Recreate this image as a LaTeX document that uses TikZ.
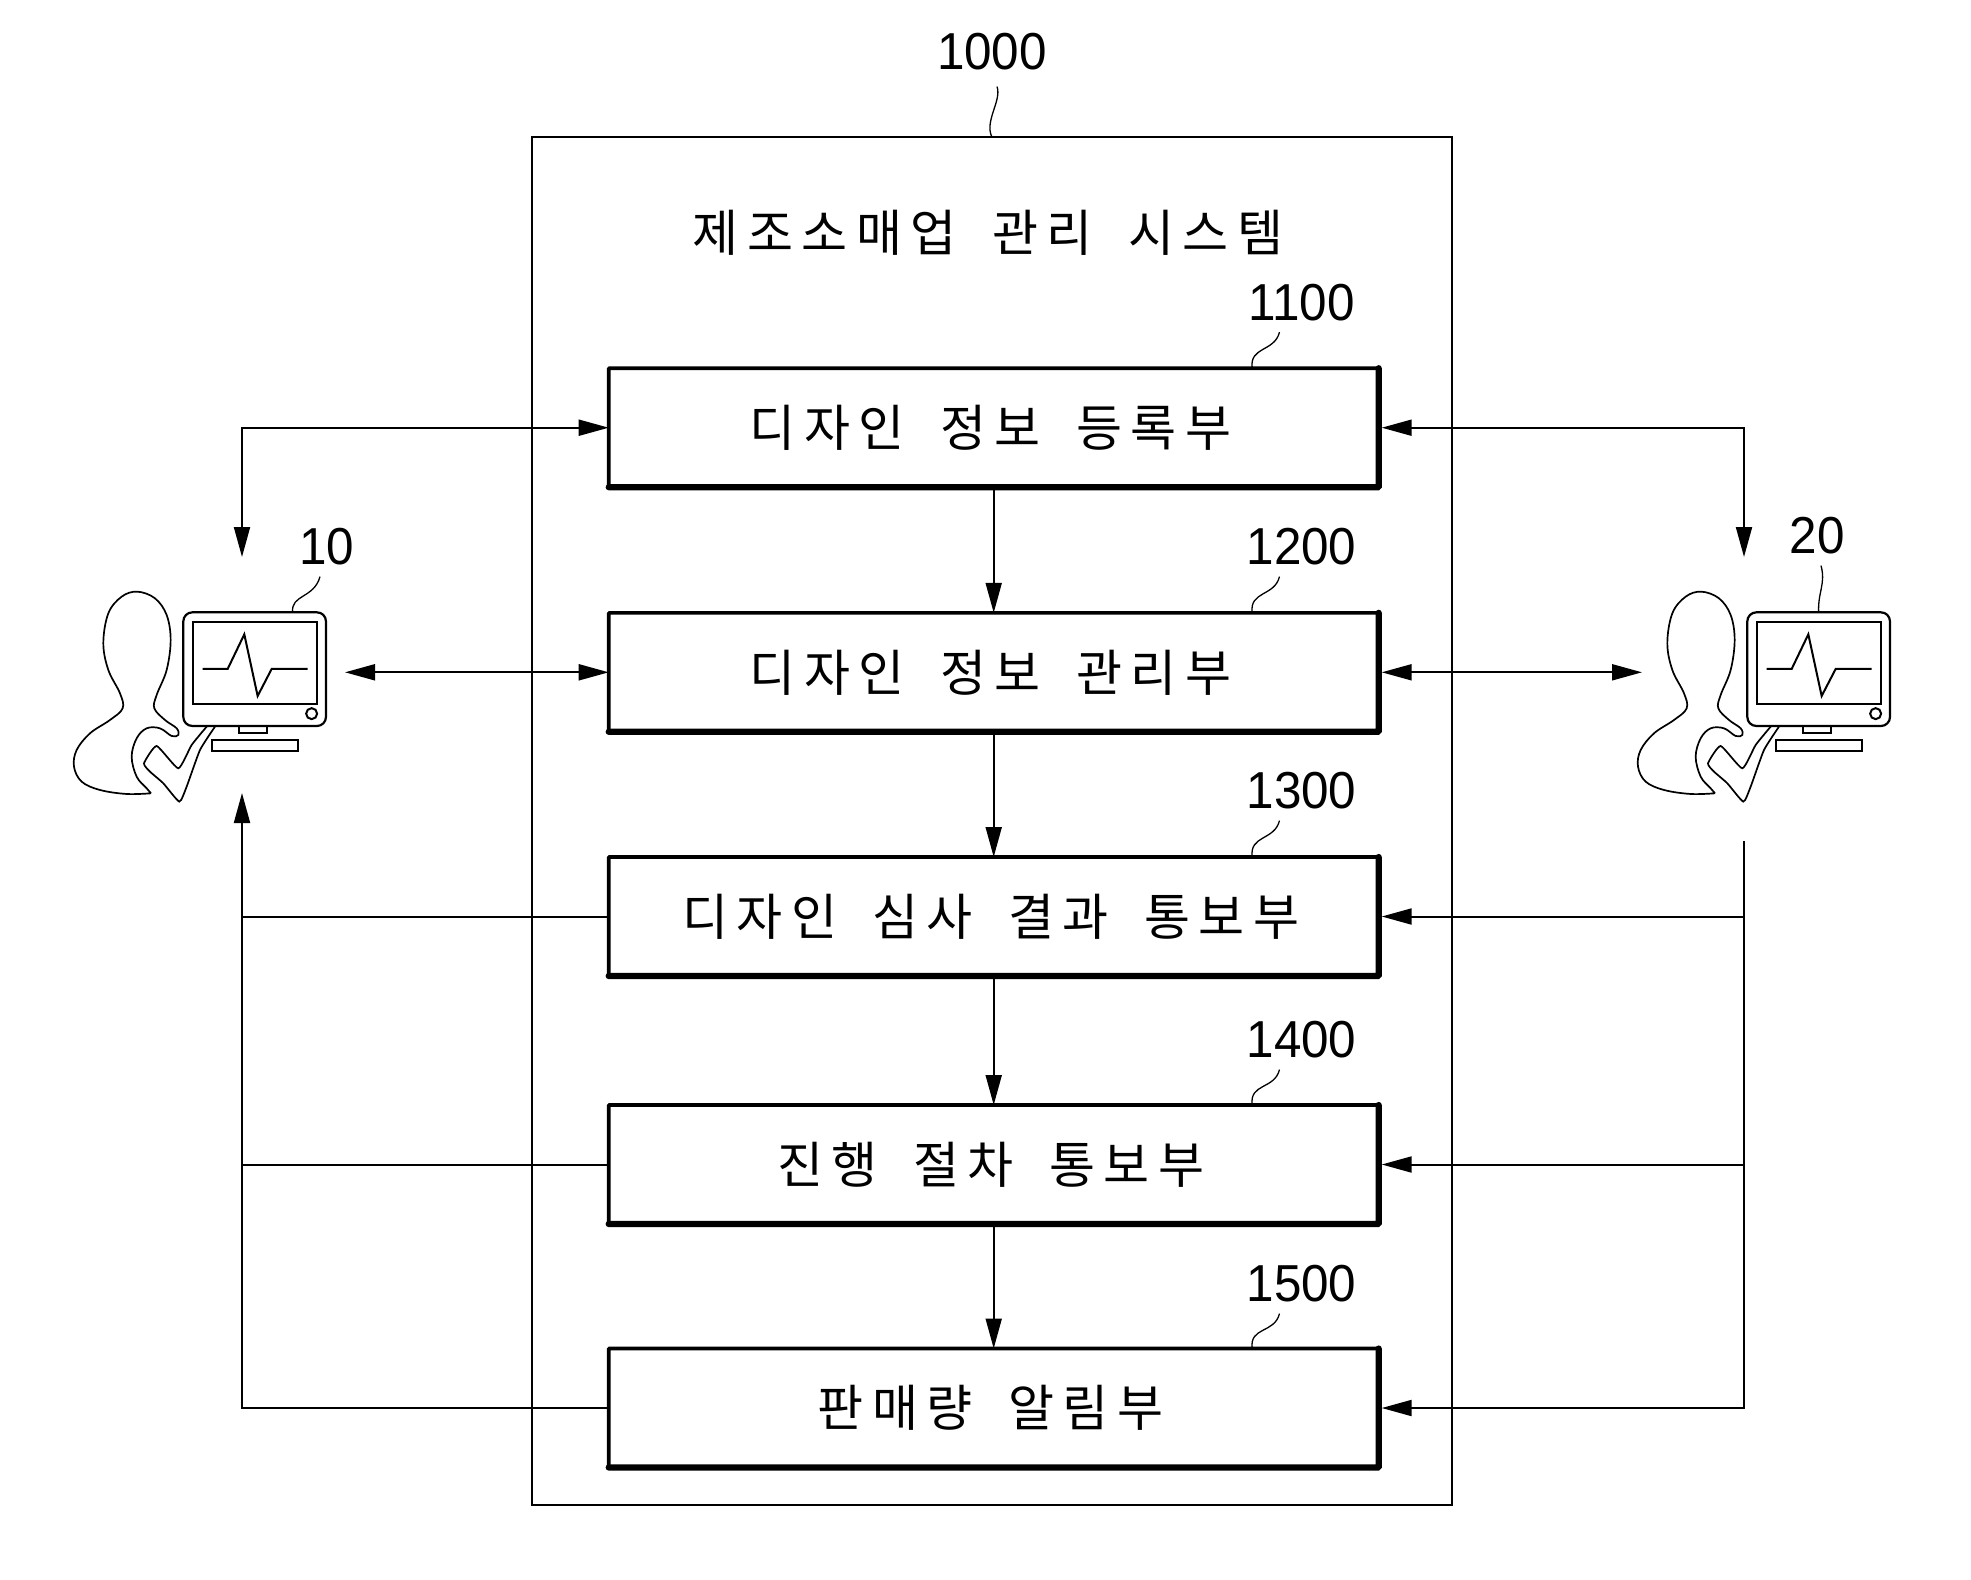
\documentclass[tikz,border=0pt]{standalone}
\usepackage{fontspec}
\usetikzlibrary{arrows.meta}
\newfontfamily\kor[LetterSpace=17,WordSpace=1.8]{Noto Sans CJK KR}
\newfontfamily\num[FakeStretch=0.95]{Liberation Sans}
\tikzset{
    >={Triangle[length=30pt,width=16pt]},
    sysbox/.style={draw, line width=2pt, minimum width=920pt, minimum height=1367.5pt, inner sep=0pt, outer sep=0pt},
    unitbox/.style={draw, line width=3.6pt, rounded corners=0.8pt, minimum width=770pt, minimum height=119pt, inner sep=0pt, outer sep=0pt, font=\kor\fontsize{50}{54}\selectfont, execute at end node=\hspace*{6pt}},
    heavy/.style={line width=6.2pt, rounded corners=1pt, line cap=round},
    title/.style={inner sep=0pt, font=\kor\fontsize{50}{54}\selectfont},
    refnum/.style={inner sep=11pt, font=\num\fontsize{52}{56}\selectfont},
    leader/.style={line width=1.3pt},
    link/.style={line width=2pt},
    user/.pic={
        \begin{scope}[x=0.3333pt, y=-0.3333pt]
        % monitor
        \draw[line width=2.2pt, rounded corners=9pt] (400,337) rectangle (828,678);
        \draw[line width=2.2pt] (428,366) rectangle (802,612);
        \draw[line width=2pt] (458,507) -- (533,507) -- (583,403) -- (623,588) -- (665,507) -- (773,507);
        \draw[line width=2pt] (785,641) circle [radius=5.5pt];
        \draw[line width=2.2pt] (566,678) -- (566,698) -- (652,698) -- (652,678);
        \draw[line width=2.2pt] (485,720) rectangle (745,753);
        % person
        \draw[line width=1.7pt] plot[smooth, tension=0.6] coordinates {(303,880) (230,882) (150,870) (95,845) (72,800) (80,750) (120,700) (180,660) (218,625) (210,580) (175,510) (160,430) (175,340) (215,290) (262,275) (315,295) (350,345) (362,420) (350,510) (320,585) (313,625) (345,660) (380,685) (385,705) (365,708) (330,685) (290,685) (260,715) (245,770) (260,830) (290,865) (303,880)};
        \draw[line width=1.7pt] plot[smooth, tension=0.3] coordinates {(470,680) (425,735) (385,805) (320,738) (282,790) (300,815) (340,850) (388,905) (410,860) (450,750) (495,680)};
        \coordinate (-top) at (614,337);
        \end{scope}
    }
}
\begin{document}
\begin{tikzpicture}[x=1pt, y=-1pt]
    \useasboundingbox (0,0) rectangle (1971,1580);

    \node[sysbox] (sys) at (992, 821) {};
    \node[title] (t) at (988, 233) {제조소매업 관리 시스템};

    \node[unitbox] (a) at (993.7, 427.7) {디자인 정보 등록부};
    \node[unitbox] (b) at (993.7, 672.3) {디자인 정보 관리부};
    \node[unitbox] (c) at (993.7, 916.5) {디자인 심사 결과 통보부};
    \node[unitbox] (d) at (993.7, 1164.5) {진행 절차 통보부};
    \node[unitbox] (e) at (993.7, 1408) {판매량 알림부};

    \draw[heavy] (a.north east) -- (a.south east) -- (a.south west);
    \draw[heavy] (b.north east) -- (b.south east) -- (b.south west);
    \draw[heavy] (c.north east) -- (c.south east) -- (c.south west);
    \draw[heavy] (d.north east) -- (d.south east) -- (d.south west);
    \draw[heavy] (e.north east) -- (e.south east) -- (e.south west);

    \node[refnum] (l0) at (992, 52) {1000};
    \node[refnum] (l1) at (1301.5, 302.5) {1100};
    \node[refnum] (l2) at (1301.5, 547) {1200};
    \node[refnum] (l3) at (1301.5, 791) {1300};
    \node[refnum] (l4) at (1301.5, 1040) {1400};
    \node[refnum] (l5) at (1301.5, 1284) {1500};
    \node[refnum] (l10) at (327, 547) {10};
    \node[refnum] (l20) at (1817, 536) {20};

    \pic (u) at (50, 500) {user};
    \pic (v) at (1614, 500) {user};

    \draw[leader] ([xshift=5pt,yshift=-5pt]l0.south) .. controls +(5,14) and +(-8,-16) .. (sys.north);
    \draw[leader] ([xshift=-22pt]l1.south) .. controls +(-5,20) and +(-3,-22) .. ([xshift=258.5pt]a.north);
    \draw[leader] ([xshift=-22pt]l2.south) .. controls +(-5,20) and +(-3,-22) .. ([xshift=258.5pt]b.north);
    \draw[leader] ([xshift=-22pt]l3.south) .. controls +(-5,20) and +(-3,-22) .. ([xshift=258.5pt]c.north);
    \draw[leader] ([xshift=-22pt]l4.south) .. controls +(-5,20) and +(-3,-22) .. ([xshift=258.5pt]d.north);
    \draw[leader] ([xshift=-22pt]l5.south) .. controls +(-5,20) and +(-3,-22) .. ([xshift=258.5pt]e.north);
    \draw[leader] ([xshift=-7pt]l10.south) .. controls +(-6,22) and +(-2,-18) .. ([xshift=38pt]u-top);
    \draw[leader] ([xshift=4pt]l20.south) .. controls +(5,18) and +(-1,-20) .. (v-top);

    \draw[link, ->] (a) -- (b);
    \draw[link, ->] (b) -- (c);
    \draw[link, ->] (c) -- (d);
    \draw[link, ->] (d) -- (e);

    \coordinate (ua) at (242, 557);
    \coordinate (ub) at (345, 672.3);
    \coordinate (uc) at (242, 793);
    \coordinate (va) at (1744, 557);
    \coordinate (vb) at (1642, 672.3);
    \coordinate (vc) at (1744, 841);

    \draw[link, <->] (ua) |- (a.west);
    \draw[link, <->] (ub) -- (b.west);
    \draw[link, ->] (e.west) -| (uc);
    \draw[link] (c.west) -- (c.west -| uc);
    \draw[link] (d.west) -- (d.west -| uc);

    \draw[link, <->, shorten <=3pt] (a.east) -| (va);
    \draw[link, <->, shorten <=3pt] (b.east) -- (vb);
    \draw[link, ->, shorten >=3pt] (vc) |- (e.east);
    \draw[link, ->, shorten >=3pt] (c.east -| vc) -- (c.east);
    \draw[link, ->, shorten >=3pt] (d.east -| vc) -- (d.east);
\end{tikzpicture}
\end{document}
